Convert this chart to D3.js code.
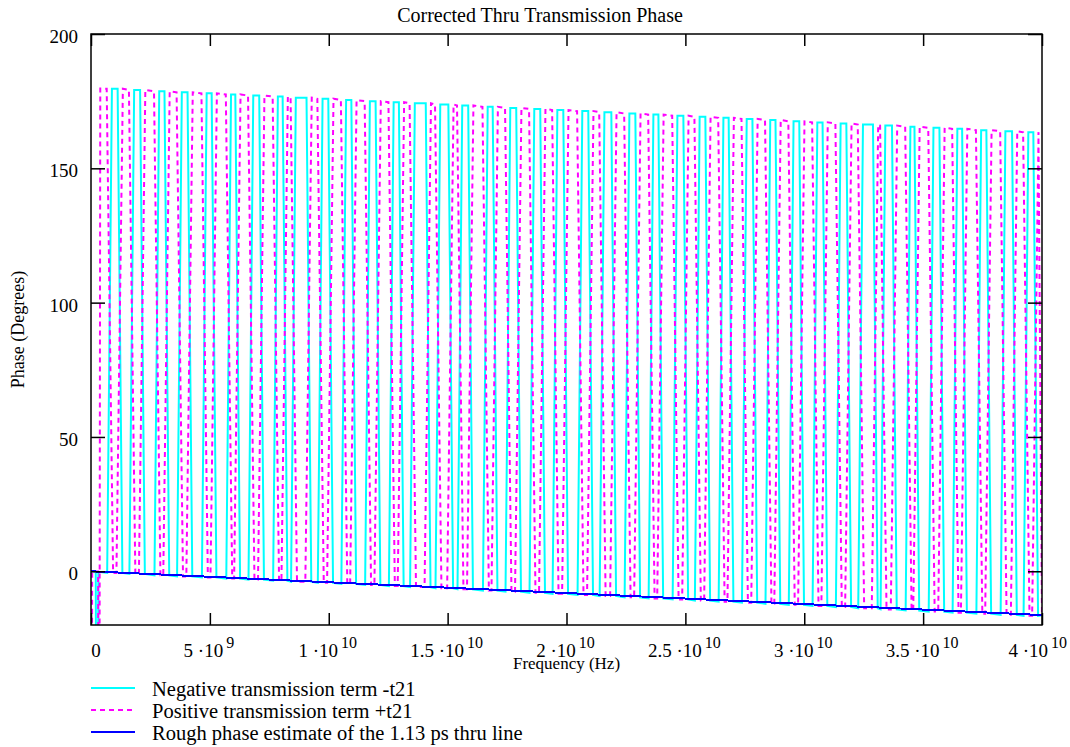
<!DOCTYPE html>
<html>
<head>
<meta charset="utf-8">
<script src="https://cdn.jsdelivr.net/npm/d3@7"></script>
<style>
body{margin:0;background:#fff;}
svg text{font-family:"Liberation Serif","Times New Roman",serif;fill:#000;}
</style>
</head>
<body>
<div id="canvas"></div>
<script>
// cyan pulses of -t21 (centre and top width in GHz)
var pulseCenter = [1.00,1.94,2.98,3.94,4.97,5.98,6.95,7.96,8.84,9.86,
    10.84,11.85,12.84,13.85,14.86,15.74,16.79,17.76,18.77,19.74,
    20.79,21.74,22.77,23.76,24.79,25.72,26.71,27.70,28.68,29.67,
    30.66,31.65,32.68,33.55,34.55,35.56,36.54,37.55,38.60,39.53];
var pulseWidth = [.24,.25,.22,.24,.21,.18,.25,.20,.45,.24,
    .22,.24,.22,.46,.34,.25,.21,.25,.25,.25,
    .25,.29,.25,.21,.25,.24,.22,.24,.22,.24,
    .22,.24,.42,.28,.17,.25,.20,.22,.28,.21];
// upper and lower phase levels at each pulse (degrees)
var topLevel = [179.6,179.2,178.7,178.3,177.9,177.5,177.1,176.7,176.3,175.9,
    175.4,175.0,174.6,174.2,173.8,173.4,172.9,172.5,172.1,171.7,
    171.3,170.9,170.4,170.0,169.6,169.2,168.8,168.4,168.0,167.5,
    167.1,166.7,166.3,165.9,165.5,165.1,164.7,164.2,163.8,163.4];
var bottomLevel = [-0.6,-1.0,-1.5,-1.9,-2.3,-2.7,-3.1,-3.5,-3.9,-4.3,
    -4.7,-5.1,-5.5,-5.9,-6.3,-6.7,-7.2,-7.6,-8.0,-8.4,
    -8.8,-9.2,-9.7,-10.1,-10.5,-10.9,-11.3,-11.7,-12.1,-12.5,
    -12.9,-13.3,-13.8,-14.2,-14.6,-15.0,-15.4,-15.8,-16.2,-16.6];
// first few samples near 0 Hz (GHz, degrees)
var negStart = [[0,0],[0.2,-0.1],[0.25,-180],[0.31,-0.2]];
var posStart = [[0,-180],[0.05,0],[0.3,-0.1],[0.34,-180],[0.39,179.7]];
var negEnd = [[40,-16.4]];
var posEnd = [[39.85,163.3],[40,-16.4]];
// rough estimate of the 1.13 ps line
var estFreq = [0,10,20,30,40];
var estPhase = [0,-4.1,-8.1,-12.2,-16.3];

var xTickVals = [0,5,10,15,20,25,30,35,40];
var xTickMant = ['0','5 \u00b710','1 \u00b710','1.5 \u00b710','2 \u00b710','2.5 \u00b710','3 \u00b710','3.5 \u00b710','4 \u00b710'];
var xTickExp = ['','9','10','10','10','10','10','10','10'];
var yTickVals = [0,50,100,150,200];
var legendNames = ['Negative transmission term -t21','Positive transmission term +t21','Rough phase estimate of the 1.13 ps thru line'];
var colors = ['#00ffff','#ff00ff','#0000ff'];

var W = 1070, H = 747;
var m = {t:34, r:28, b:122, l:91},
    w = W - m.l - m.r,
    h = H - m.t - m.b;

var svg = d3.select('#canvas').append('svg')
    .attr('width', W).attr('height', H);

var x = d3.scaleLinear().domain([0,40]).range([0,w]);
var y = d3.scaleLinear().domain([-20,200]).range([h,0]);

var plot = svg.append('g').attr('transform','translate('+m.l+','+m.t+')');

svg.append('defs').append('clipPath').attr('id','clip')
    .append('rect').attr('width',w).attr('height',h);

// build the two square-ish phase traces from the pulse readings
var neg = negStart.slice(), pos = posStart.slice();
pulseCenter.forEach(function(c,i){
    var hw = pulseWidth[i]/2, t = topLevel[i], b = bottomLevel[i];
    neg.push([c-hw-0.2,b],[c-hw,t],[c+hw,t],[c+hw+0.2,b]);
    pos.push([c-hw-0.22,t],[c-hw+0.05,b],[c+hw-0.05,b],[c+hw+0.22,t]);
});
neg = neg.concat(negEnd);
pos = pos.concat(posEnd);
var est = estFreq.map(function(f,i){return [f,estPhase[i]];});

var line = d3.line().x(function(d){return x(d[0]);}).y(function(d){return y(d[1]);});

var data = plot.append('g').attr('clip-path','url(#clip)');
data.append('path').datum(neg).attr('d',line)
    .attr('fill','none').attr('stroke',colors[0]).attr('stroke-width',2);
data.append('path').datum(pos).attr('d',line)
    .attr('fill','none').attr('stroke',colors[1]).attr('stroke-width',2)
    .attr('stroke-dasharray','5,4');
data.append('path').datum(est).attr('d',line)
    .attr('fill','none').attr('stroke',colors[2]).attr('stroke-width',2)
    .attr('shape-rendering','crispEdges');

// axes: inward ticks on all four sides
function styleAxis(g){
    g.select('.domain').remove();
    g.selectAll('.tick line').attr('stroke','#000').attr('stroke-width',1.5);
}
plot.append('g').attr('transform','translate(0,'+h+')')
    .call(d3.axisBottom(x).tickValues(xTickVals).tickSize(-12).tickFormat('')).call(styleAxis);
plot.append('g')
    .call(d3.axisTop(x).tickValues(xTickVals).tickSize(-12).tickFormat('')).call(styleAxis);
plot.append('g')
    .call(d3.axisLeft(y).tickValues(yTickVals).tickSize(-14).tickFormat('')).call(styleAxis);
plot.append('g').attr('transform','translate('+w+',0)')
    .call(d3.axisRight(y).tickValues(yTickVals).tickSize(-14).tickFormat('')).call(styleAxis);

plot.append('rect').attr('width',w).attr('height',h)
    .attr('fill','none').attr('stroke','#000').attr('stroke-width',1.5);

// y tick labels
plot.selectAll('.ylab').data(yTickVals).enter().append('text')
    .attr('class','ylab')
    .attr('x',-13).attr('y',function(d){return y(d)+9;})
    .attr('text-anchor','end').style('font-size','19px')
    .text(function(d){return d;});

// x tick labels with superscript exponent
var xl = plot.selectAll('.xlab').data(xTickVals).enter().append('text')
    .attr('class','xlab')
    .attr('x',function(d,i){ return i===0 ? x(d)+5 : (i===xTickVals.length-1 ? x(d)+25 : x(d)-1); })
    .attr('y',h+32)
    .attr('text-anchor',function(d,i){ return i===xTickVals.length-1 ? 'end' : 'middle'; })
    .style('font-size','19px');
xl.append('tspan').text(function(d,i){return xTickMant[i];});
xl.append('tspan').attr('dy',-9).attr('dx',3).style('font-size','16px')
    .text(function(d,i){return xTickExp[i];});

svg.append('text').attr('x',m.l+w/2).attr('y',m.t+h+44)
    .attr('text-anchor','middle').style('font-size','17px').text('Frequency (Hz)');
svg.append('text').attr('transform','translate(24,'+(m.t+h/2)+') rotate(-90)')
    .attr('text-anchor','middle').style('font-size','18px').text('Phase (Degrees)');
svg.append('text').attr('x',540).attr('y',22)
    .attr('text-anchor','middle').style('font-size','20px').text('Corrected Thru Transmission Phase');

// legend
var lg = svg.selectAll('.leg').data(legendNames).enter().append('g')
    .attr('class','leg')
    .attr('transform',function(d,i){return 'translate(91,'+(688+i*22)+')';});
lg.append('line').attr('x1',0).attr('x2',44).attr('y1',0).attr('y2',0)
    .attr('stroke',function(d,i){return colors[i];}).attr('stroke-width',2)
    .attr('stroke-dasharray',function(d,i){return i===1?'5,4':null;});
lg.append('text').attr('x',61).attr('y',8).style('font-size','20.5px')
    .text(function(d){return d;});
</script>
</body>
</html>
